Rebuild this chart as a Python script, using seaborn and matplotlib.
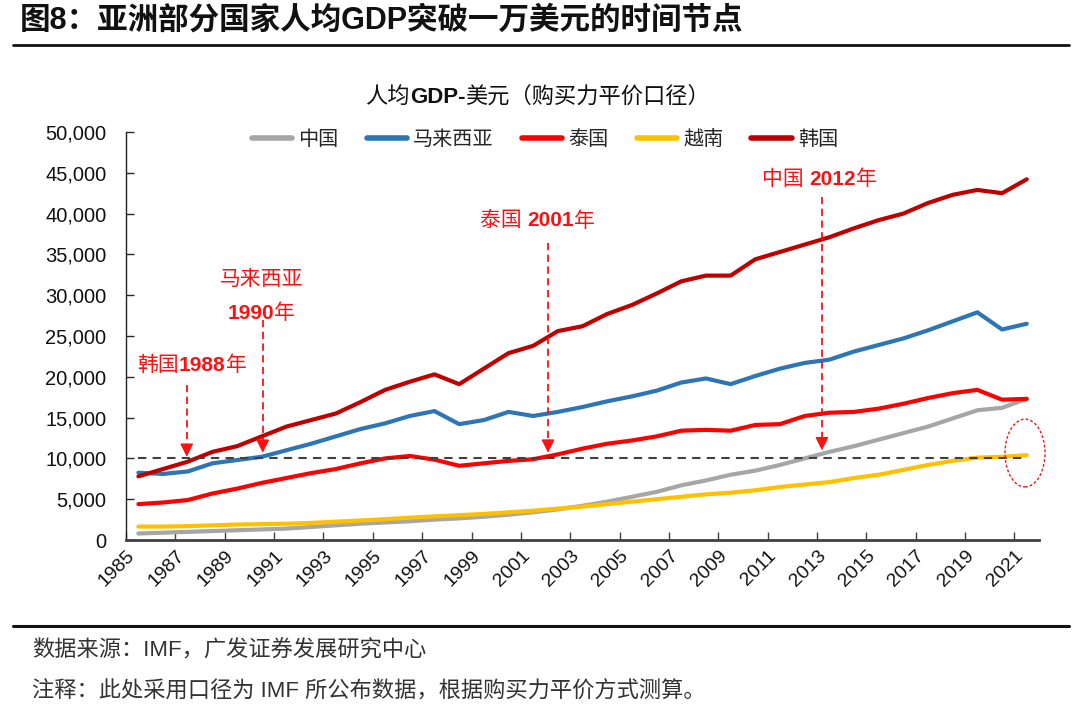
import numpy as np
import pandas as pd
import matplotlib.pyplot as plt
import seaborn as sns
from matplotlib.lines import Line2D
from matplotlib.patches import Ellipse
from matplotlib.ticker import FuncFormatter

years = list(range(1985, 2022))

china = [800, 900, 1000, 1100, 1200, 1300, 1400, 1600, 1800, 2000, 2150, 2300, 2500,
         2650, 2850, 3100, 3400, 3750, 4200, 4700, 5300, 5900, 6700, 7300, 8000, 8500,
         9200, 10000, 10800, 11500, 12300, 13100, 13900, 14900, 15900, 16200, 17300]
malaysia = [8250, 8100, 8400, 9400, 9800, 10200, 11000, 11800, 12700, 13600, 14300, 15200, 15800,
            14200, 14700, 15700, 15200, 15700, 16300, 17000, 17600, 18300, 19300, 19800, 19100, 20100,
            21000, 21700, 22100, 23100, 23900, 24700, 25700, 26800, 27900, 25800, 26500]
thailand = [4400, 4600, 4900, 5700, 6300, 7000, 7600, 8200, 8700, 9400, 10000, 10300, 9850,
            9100, 9400, 9700, 9900, 10500, 11200, 11800, 12200, 12700, 13400, 13500, 13400, 14100,
            14200, 15200, 15600, 15700, 16100, 16700, 17400, 18000, 18400, 17200, 17300]
vietnam = [1650, 1650, 1700, 1800, 1900, 1950, 2000, 2100, 2250, 2400, 2550, 2750, 2900,
           3050, 3200, 3400, 3600, 3850, 4100, 4400, 4700, 5000, 5300, 5600, 5800, 6100,
           6500, 6800, 7100, 7600, 8000, 8600, 9200, 9700, 10100, 10200, 10400]
korea = [7800, 8700, 9600, 10800, 11500, 12700, 13900, 14700, 15500, 16900, 18400, 19400, 20300,
         19100, 21000, 22900, 23800, 25600, 26200, 27700, 28800, 30200, 31700, 32400, 32400, 34400,
         35300, 36200, 37100, 38200, 39200, 40000, 41300, 42300, 42900, 42500, 44200]

countries = ["中国", "马来西亚", "泰国", "越南", "韩国"]
colors = ["#A6A6A6", "#2E75B6", "#FF0000", "#FFC000", "#C00000"]
threshold = 10000

df = pd.DataFrame({
    "year": years * 5,
    "gdp": china + malaysia + thailand + vietnam + korea,
    "country": np.repeat(countries, len(years)),
})

sns.set_theme(style="ticks")
plt.rcParams["font.family"] = ["Liberation Sans", "Noto Sans CJK SC"]

fig = plt.figure(figsize=(10.8, 7.24), dpi=100)
ax = fig.add_axes([0.1167, 0.2541, 0.8454, 0.5636])

sns.lineplot(data=df, x="year", y="gdp", hue="country", hue_order=countries,
             palette=colors, linewidth=3, ax=ax, legend=False, zorder=3)

# threshold line
ax.plot([years[0], years[-1]], [threshold, threshold], color="#404040", lw=1.5,
        ls=(0, (4, 3)), zorder=4)

ax.set_xlim(1984.5, 2021.5)
ax.set_ylim(0, 50000)
ax.set_xlabel("")
ax.set_ylabel("")
ax.set_xticks(years[::2])
ax.set_xticklabels([str(y) for y in years[::2]], rotation=45, ha="right", va="top")
ax.set_xticks(np.arange(1984.5, 2021, 2), minor=True)
ax.tick_params(axis="x", which="major", length=0, pad=5, labelsize=14, labelcolor="#111111")
ax.tick_params(axis="x", which="minor", direction="in", length=6, width=1, color="#404040")
ax.set_yticks(range(0, 50001, 5000))
ax.yaxis.set_major_formatter(FuncFormatter(lambda v, p: f"{int(v):,}"))
ax.tick_params(axis="y", direction="in", length=6, width=1, pad=14, labelsize=14.5,
               labelcolor="#111111")
sns.despine(ax=ax)
ax.spines["bottom"].set_color("#404040")
ax.spines["bottom"].set_linewidth(2)
ax.spines["left"].set_color("#222222")
ax.spines["left"].set_linewidth(1)

# legend
handles = [Line2D([0], [0], color=c, lw=4) for c in colors]
ax.legend(handles, countries, loc="center", bbox_to_anchor=(0.459, 0.982), ncol=5,
          frameon=False, fontsize=14.5, handlelength=2.0, handletextpad=0.3,
          columnspacing=1.4)

red = "#FF1010"


def chain(first, pieces, size, color):
    # place text pieces one after another, first one given as a ready kwargs dict
    prev = None
    for txt, bold in pieces:
        kw = dict(fontsize=size, color=color, fontweight="bold" if bold else "normal",
                  va="center", ha="left", annotation_clip=False)
        if prev is None:
            prev = ax.annotate(txt, **first, **kw)
        else:
            prev = ax.annotate(txt, xy=(1, 0.5), xycoords=prev, **kw)


def mixed_text(x, y, pieces):
    chain(dict(xy=(x, y), xycoords="data"), pieces, 15, red)


def arrow(x, top, tip):
    head = 1400
    ax.plot([x, x], [top, tip + head], color=red, lw=1.3, ls=(0, (4, 2.5)), zorder=5)
    ax.annotate("", xy=(x, tip), xytext=(x, tip + head),
                arrowprops=dict(arrowstyle="-|>", color=red, lw=1, mutation_scale=20,
                                shrinkA=0, shrinkB=0), zorder=5)


# chart subtitle
chain(dict(xy=(0.262, 1.085), xycoords="axes fraction"),
      [("人均", False), ("GDP-", True), ("美元（购买力平价口径）", False)], 16, "#111111")

arrow(1986.96, 19000, 10200)
mixed_text(1984.95, 21400, [("韩国", False), ("1988", True), ("年", False)])

arrow(1990.04, 27000, 10700)
ax.text(1990.0, 31900, "马来西亚", ha="center", va="center", fontsize=15, color=red)
mixed_text(1988.6, 27800, [("1990", True), ("年", False)])

arrow(2001.6, 36400, 10700)
mixed_text(1998.84, 39100, [("泰国 ", False), ("2001", True), ("年", False)])

arrow(2012.7, 42000, 11000)
mixed_text(2010.26, 44200, [("中国 ", False), ("2012", True), ("年", False)])

ax.add_patch(Ellipse((2020.93, 10660), width=1.62, height=8300, fill=False,
                     ec=red, lw=1, ls=(0, (2, 1.5)), clip_on=False, zorder=6))

# header and footer
fig.text(0.018, 0.972, "图8：亚洲部分国家人均GDP突破一万美元的时间节点", ha="left",
         va="center", fontsize=22, fontweight="bold", color="#111111")
fig.add_artist(Line2D([0.012, 0.99], [0.938, 0.938], color="#111111", lw=2))
fig.add_artist(Line2D([0.012, 0.99], [0.135, 0.135], color="#111111", lw=2.2))
fig.text(0.03, 0.101, "数据来源：IMF，广发证券发展研究中心", ha="left", va="center",
         fontsize=16, color="#333333")
fig.text(0.03, 0.045, "注释：此处采用口径为 IMF 所公布数据，根据购买力平价方式测算。", ha="left",
         va="center", fontsize=16, color="#333333")

fig.savefig("out.png", dpi=100)
